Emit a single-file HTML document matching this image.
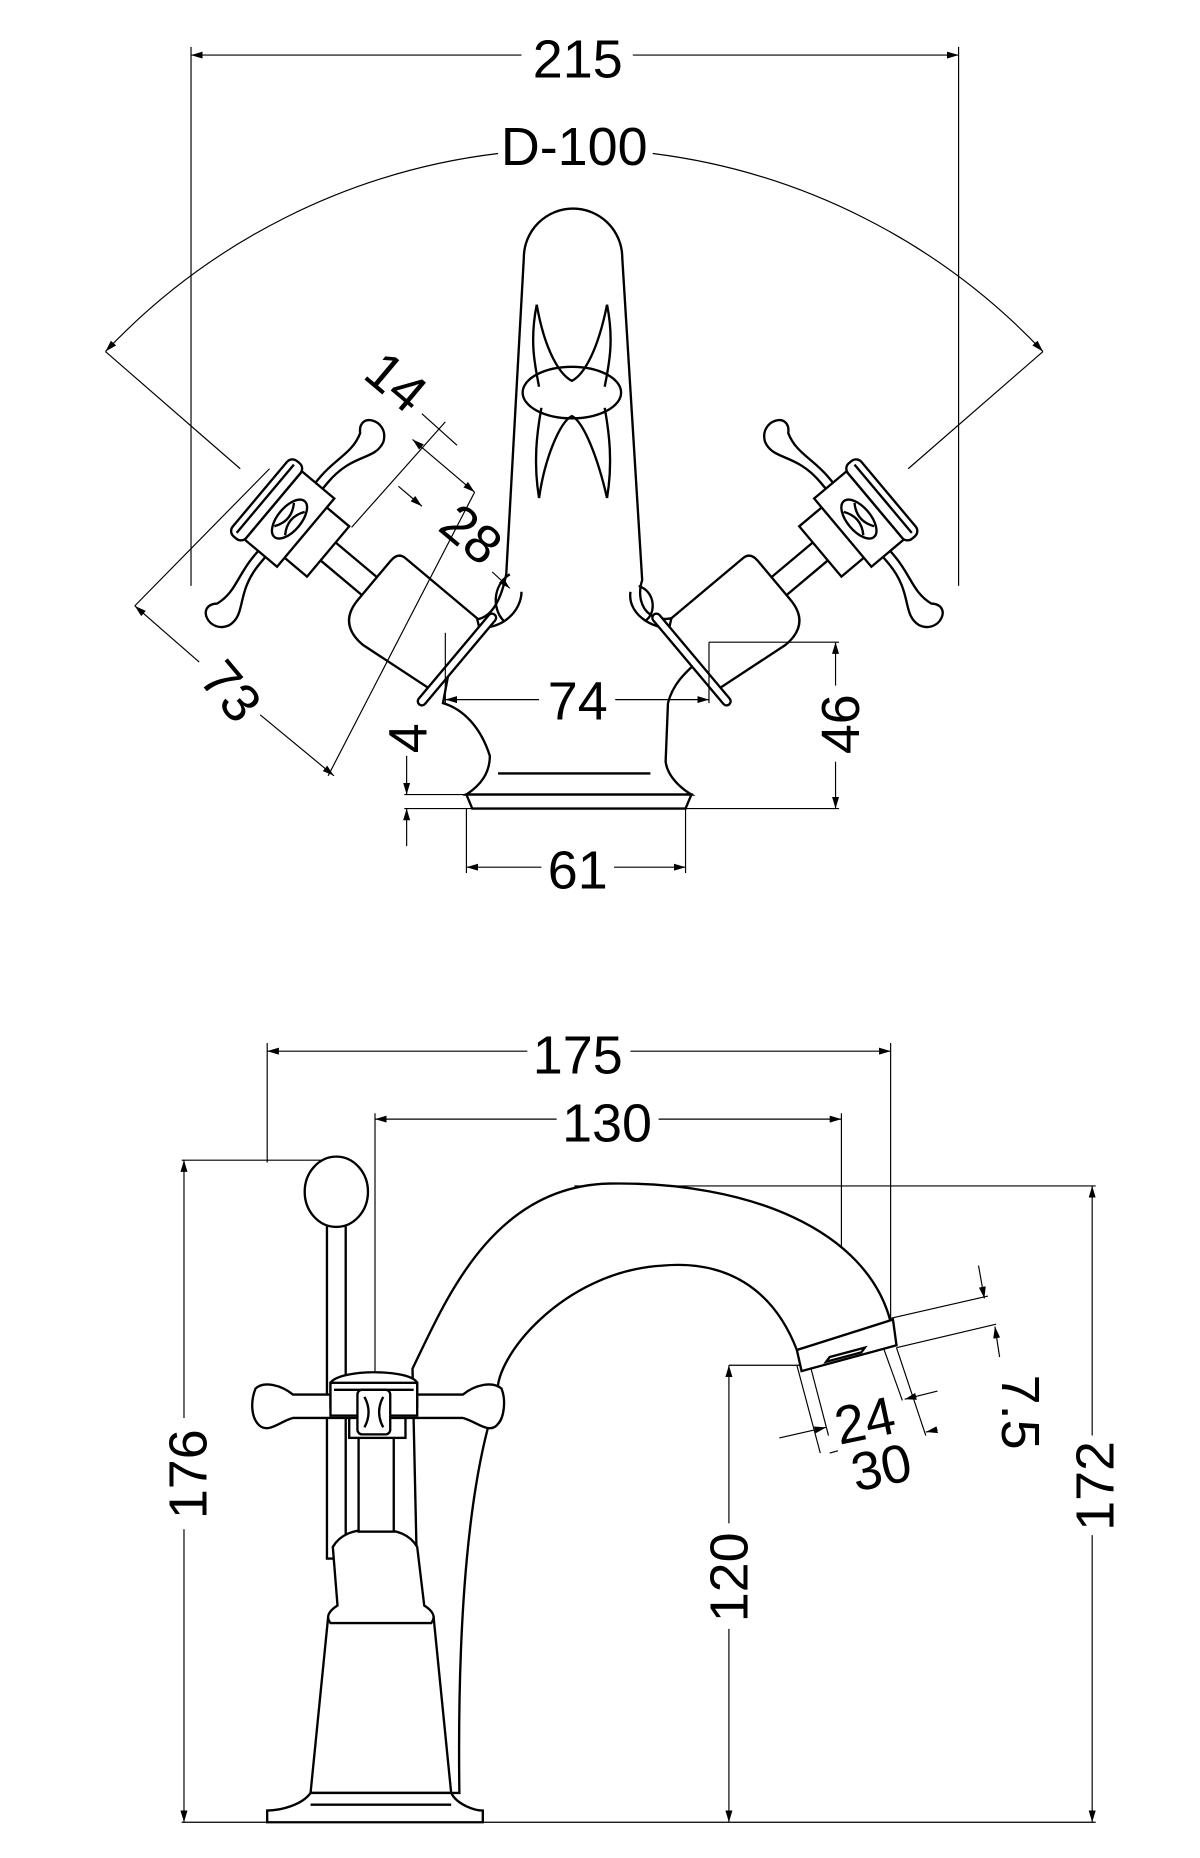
<!DOCTYPE html>
<html><head><meta charset="utf-8"><style>
html,body{margin:0;padding:0;background:#fff}
svg{display:block}
text{font-family:"Liberation Sans",sans-serif;fill:#000}
</style></head><body>
<svg width="1200" height="1858" viewBox="0 0 1024 1585.5" xmlns="http://www.w3.org/2000/svg">
<defs>
<marker id="a" viewBox="0 0 10 6" refX="10" refY="3" markerWidth="10" markerHeight="6" orient="auto-start-reverse" markerUnits="userSpaceOnUse"><path d="M0,0 L10,3 L0,6 z" fill="#000"/></marker>
<g id="hdl" fill="#fff" stroke="#000" stroke-width="2">
  <rect x="-95" y="-10" width="58" height="20"/>
  <path d="M-40,-38 L40,-38 L48,-32 L48,34 L-20,42 Q-48,42 -48,15 L-48,-28 Q-48,-38 -40,-38 Z"/>
  <rect x="46" y="-50" width="7" height="100" rx="3.5"/>
  <rect x="-120" y="-28" width="26" height="56"/>
  <path d="M-138,-95 C-152,-108 -126,-120 -118,-102 C-113,-85 -132,-78 -132,-45 L-132,45 C-132,78 -113,85 -118,102 C-126,120 -152,108 -138,95 C-132,78 -140,65 -140,45 L-140,-45 C-140,-65 -132,-78 -138,-95 Z"/>
  <rect x="-155" y="-38" width="36" height="76"/>
  <rect x="-170" y="-42" width="15" height="84" rx="6"/>
  <line x1="-164" y1="-38" x2="-164" y2="38"/>
  <ellipse cx="-137" cy="0" rx="10" ry="20"/>
  <path d="M-143,-13 Q-134,0 -143,13 M-131,-13 Q-140,0 -131,13" fill="none"/>
</g>
</defs>
<g fill="none" stroke="#000" stroke-width="1">
<line x1="163" y1="40" x2="163" y2="500"/>
<line x1="818" y1="40" x2="818" y2="500"/>
<line x1="163" y1="47" x2="445" y2="47" marker-start="url(#a)"/>
<line x1="540" y1="47" x2="818" y2="47" marker-end="url(#a)"/>
<path d="M90,300 A551,551 0 0 1 425,131" marker-start="url(#a)"/>
<path d="M557,131 A551,551 0 0 1 890,300" marker-end="url(#a)"/>
<line x1="90" y1="300" x2="205" y2="400"/>
<line x1="890" y1="300" x2="775" y2="400"/>
</g>
<text x="493" y="66" font-size="46" text-anchor="middle">215</text>
<text x="490" y="141" font-size="46" text-anchor="middle">D-100</text>

<g fill="#fff" stroke="#000" stroke-width="2">
<path d="M447,220 A42,42 0 0 1 531,220 L548,495 C540,520 560,540 590,520 L600,560 C590,570 575,580 570,600 L568,650 C570,665 585,675 590,678 L398,678 C410,670 418,660 418,645 C410,620 395,605 378,600 L392,525 C410,535 425,525 432,490 Z"/>
<path d="M398,678 L590,678 L585,690 L403,690 Z"/>
<line x1="425" y1="660" x2="555" y2="660"/>
</g>
<g fill="none" stroke="#000" stroke-width="2">
<ellipse cx="488" cy="335" rx="42" ry="22"/>
<path d="M458,260 C465,300 478,320 488,325 C498,320 510,300 518,260"/>
<path d="M458,260 C452,290 456,310 460,330 M518,260 C524,290 520,310 516,330"/>
<path d="M460,425 C465,390 478,360 488,355 C498,360 510,390 518,425"/>
<path d="M460,425 C455,395 458,370 462,348 M518,425 C523,395 520,370 516,348"/>
<path d="M435,490 C420,500 420,520 430,530 M400,535 C430,540 445,520 445,505"/>
<path d="M545,500 C560,505 560,525 550,530 M538,505 C535,525 560,540 580,535"/>
</g>
<use href="#hdl" transform="translate(352,531) rotate(40)"/>
<use href="#hdl" transform="translate(628,531) scale(-1,1) rotate(40)"/>

<g fill="none" stroke="#000" stroke-width="1">
<line x1="352" y1="375" x2="405" y2="420" marker-start="url(#a)" marker-end="url(#a)"/>
<line x1="380" y1="360" x2="300" y2="450"/>
<line x1="360" y1="353" x2="390" y2="380"/>
<line x1="340" y1="415" x2="360" y2="432" marker-end="url(#a)"/>
<line x1="405" y1="420" x2="280" y2="662"/>
<line x1="115" y1="517" x2="170" y2="565" marker-start="url(#a)"/>
<line x1="222" y1="610" x2="285" y2="662" marker-end="url(#a)"/>
<line x1="115" y1="517" x2="230" y2="400"/>
<line x1="420" y1="488" x2="435" y2="502" marker-end="url(#a)"/>
<line x1="380" y1="540" x2="380" y2="600"/>
<line x1="605" y1="548" x2="605" y2="600"/>
<line x1="380" y1="597" x2="460" y2="597" marker-start="url(#a)"/>
<line x1="525" y1="597" x2="605" y2="597" marker-end="url(#a)"/>
<line x1="605" y1="548" x2="716" y2="548"/>
<line x1="345" y1="690" x2="716" y2="690"/>
<line x1="345" y1="678" x2="398" y2="678"/>
<line x1="713" y1="548" x2="713" y2="585" marker-start="url(#a)"/>
<line x1="713" y1="650" x2="713" y2="690" marker-end="url(#a)"/>
<line x1="347" y1="645" x2="347" y2="678" marker-end="url(#a)"/>
<line x1="347" y1="722" x2="347" y2="690" marker-end="url(#a)"/>
<line x1="398" y1="690" x2="398" y2="745"/>
<line x1="585" y1="690" x2="585" y2="745"/>
<line x1="398" y1="740" x2="462" y2="740" marker-start="url(#a)"/>
<line x1="524" y1="740" x2="585" y2="740" marker-end="url(#a)"/>
</g>
<text x="493" y="614" font-size="46" text-anchor="middle">74</text>
<text x="493" y="758" font-size="46" text-anchor="middle">61</text>
<text transform="translate(733,618) rotate(-90)" font-size="46" text-anchor="middle">46</text>
<text transform="translate(364,630) rotate(-90)" font-size="46" text-anchor="middle">4</text>
<text transform="translate(328,338) rotate(40)" font-size="46" text-anchor="middle">14</text>
<text transform="translate(392,468) rotate(40)" font-size="46" text-anchor="middle">28</text>
<text transform="translate(185,600) rotate(50)" font-size="46" text-anchor="middle">73</text>

<g fill="none" stroke="#000" stroke-width="1">
<line x1="228" y1="890" x2="228" y2="992"/>
<line x1="760" y1="890" x2="760" y2="1130"/>
<line x1="228" y1="897" x2="450" y2="897" marker-start="url(#a)"/>
<line x1="538" y1="897" x2="760" y2="897" marker-end="url(#a)"/>
<line x1="320" y1="950" x2="320" y2="1170"/>
<line x1="718" y1="950" x2="718" y2="1135"/>
<line x1="320" y1="955" x2="475" y2="955" marker-start="url(#a)"/>
<line x1="562" y1="955" x2="718" y2="955" marker-end="url(#a)"/>
<line x1="155" y1="990" x2="285" y2="990"/>
<line x1="157" y1="990" x2="157" y2="1210" marker-start="url(#a)"/>
<line x1="157" y1="1305" x2="157" y2="1555" marker-end="url(#a)"/>
<line x1="490" y1="1012" x2="935" y2="1012"/>
<line x1="932" y1="1012" x2="932" y2="1225" marker-start="url(#a)"/>
<line x1="932" y1="1310" x2="932" y2="1555" marker-end="url(#a)"/>
<line x1="622" y1="1165" x2="685" y2="1165"/>
<line x1="622" y1="1165" x2="622" y2="1300" marker-start="url(#a)"/>
<line x1="622" y1="1390" x2="622" y2="1555" marker-end="url(#a)"/>
<line x1="155" y1="1555" x2="935" y2="1555"/>
<line x1="760" y1="1125" x2="843" y2="1106"/>
<line x1="765" y1="1150" x2="850" y2="1130"/>
<line x1="835" y1="1080" x2="840" y2="1108" marker-end="url(#a)"/>
<line x1="853" y1="1158" x2="849" y2="1132" marker-end="url(#a)"/>
<line x1="680" y1="1165" x2="700" y2="1240"/>
<line x1="765" y1="1150" x2="790" y2="1225"/>
<line x1="690" y1="1160" x2="707" y2="1225"/>
<line x1="752" y1="1145" x2="770" y2="1195"/>
<line x1="665" y1="1227" x2="705" y2="1218" marker-end="url(#a)"/>
<line x1="800" y1="1187" x2="772" y2="1194" marker-end="url(#a)"/>
<line x1="708" y1="1240" x2="715" y2="1238"/>
<line x1="800" y1="1220" x2="790" y2="1222" marker-end="url(#a)"/>
</g>
<text x="493" y="916" font-size="46" text-anchor="middle">175</text>
<text x="518" y="974" font-size="46" text-anchor="middle">130</text>
<text transform="translate(176,1258) rotate(-90)" font-size="46" text-anchor="middle">176</text>
<text transform="translate(950,1268) rotate(-90)" font-size="46" text-anchor="middle">172</text>
<text transform="translate(638,1346) rotate(-90)" font-size="46" text-anchor="middle">120</text>
<text x="738" y="1228" font-size="46" text-anchor="middle" transform="rotate(-12 738 1212)">24</text>
<text x="752" y="1268" font-size="46" text-anchor="middle" transform="rotate(-12 752 1252)">30</text>
<text transform="translate(855,1205) rotate(90)" font-size="46" text-anchor="middle">7.5</text>

<g fill="#fff" stroke="#000" stroke-width="2">
<path d="M352,1168 C380,1110 420,1012 520,1010 C640,1008 740,1050 760,1128 L680,1152 C660,1100 620,1075 565,1080 C480,1085 420,1160 425,1190 C400,1260 390,1380 392,1530 L360,1530 Z"/>
<path d="M680,1152 L762,1126 L765,1148 L684,1170 Z"/>
<path d="M705,1162 L735,1154 L738,1150 L708,1158 Z"/>
<rect x="279" y="1045" width="16" height="285"/>
<ellipse cx="287" cy="1017" rx="27" ry="30"/>
<path d="M280,1380 L370,1380 L385,1530 L265,1530 Z"/>
<path d="M284,1320 C290,1310 300,1305 320,1305 C340,1305 350,1310 356,1320 L362,1370 C370,1375 372,1380 368,1385 L282,1385 C278,1380 280,1375 288,1370 Z"/>
<path d="M265,1530 L385,1530 C390,1540 405,1545 412,1545 L412,1555 L228,1555 L228,1545 C240,1545 258,1540 265,1530 Z"/>
<line x1="265" y1="1540" x2="385" y2="1540"/>
<rect x="306" y="1225" width="30" height="82"/>
<rect x="298" y="1205" width="48" height="22"/>
<path d="M218,1185 C225,1178 240,1182 250,1190 L395,1190 C405,1182 420,1178 428,1185 C432,1195 430,1210 425,1215 C418,1225 405,1212 395,1210 L250,1210 C240,1212 228,1225 220,1215 C214,1208 214,1195 218,1185 Z"/>
<path d="M282,1180 C290,1168 350,1168 356,1180 L356,1200 L282,1200 Z"/>
<rect x="282" y="1180" width="74" height="28"/>
<line x1="285" y1="1186" x2="353" y2="1186"/>
<rect x="305" y="1186" width="28" height="38" rx="4"/>
<path d="M311,1192 Q318,1205 311,1218 M327,1192 Q320,1205 327,1218" fill="none"/>
</g>
</svg>
</body></html>
